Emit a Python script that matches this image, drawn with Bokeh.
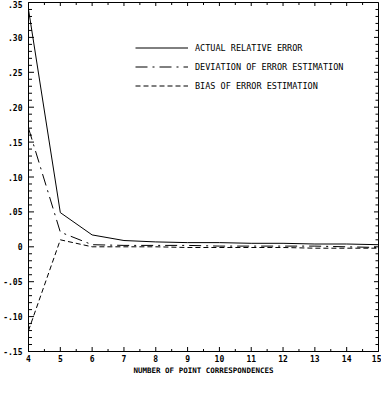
import math
from bokeh.plotting import figure
from bokeh.models import LinearAxis, FixedTicker, Range1d, Legend, LegendItem
from bokeh.embed import file_html
from bokeh.resources import INLINE

n_points = [4, 5, 6, 7, 8, 9, 10, 11, 12, 13, 14, 15]
actual_error = [0.340, 0.049, 0.017, 0.009, 0.007, 0.006, 0.006, 0.005, 0.005, 0.004, 0.004, 0.003]
deviation = [0.170, 0.021, 0.003, 0.002, 0.002, 0.002, 0.001, 0.001, 0.001, 0.001, 0.000, -0.001]
bias = [-0.120, 0.010, 0.000, 0.000, 0.000, -0.001, -0.001, -0.001, -0.001, -0.002, -0.002, -0.002]

y_major = [-0.15, -0.10, -0.05, 0.0, 0.05, 0.10, 0.15, 0.20, 0.25, 0.30, 0.35]
y_labels = ["-.15", "-.10", "-.05", "0", ".05", ".10", ".15", ".20", ".25", ".30", ".35"]
y_minor = [round(-0.15 + 0.01 * i, 2) for i in range(51)]
x_major = n_points
x_minor = [4 + 0.5 * i for i in range(23)]

X0, X1 = 4, 15
Y0, Y1 = -0.15, 0.35
FONT = "DejaVu Sans Mono"

p = figure(width=381, height=377, output_backend="svg", toolbar_location=None,
           x_range=Range1d(X0, X1), y_range=Range1d(Y0, Y1),
           x_axis_location=None, y_axis_location=None,
           min_border_left=25, min_border_right=3, min_border_top=2, min_border_bottom=20)
p.grid.visible = False
p.outline_line_color = "black"
p.outline_line_width = 1
p.background_fill_alpha = 0
p.border_fill_color = "white"


def style(ax):
    ax.axis_line_color = "black"
    ax.major_tick_in = 0
    ax.major_tick_out = 0
    ax.minor_tick_in = 0
    ax.minor_tick_out = 0
    ax.major_label_text_font = FONT
    ax.major_label_text_font_style = "bold"
    ax.major_label_text_font_size = "8px"
    ax.major_label_text_color = "black"


yl = LinearAxis(ticker=FixedTicker(ticks=y_major, minor_ticks=[]))
yl.major_label_overrides = {v: s for v, s in zip(y_major, y_labels)}
style(yl)
yl.major_label_standoff = 6
p.add_layout(yl, "left")

xb = LinearAxis(ticker=FixedTicker(ticks=x_major, minor_ticks=[]))
style(xb)
xb.major_label_standoff = 3
xb.axis_label = "NUMBER OF POINT CORRESPONDENCES"
xb.axis_label_text_font = FONT
xb.axis_label_text_font_style = "bold"
xb.axis_label_text_font_size = "7.5px"
xb.axis_label_text_color = "black"
xb.axis_label_standoff = 1
p.add_layout(xb, "below")

# inward tick marks on all four sides (dash markers centred on the frame edge, clipped to the frame)
y_min_only = [v for v in y_minor if all(abs(v - m) > 1e-9 for m in y_major)]
x_min_only = [v for v in x_minor if v not in x_major]
tick_kw = dict(marker="dash", line_color="black", line_width=1)
p.scatter([X0] * len(y_major), y_major, size=11, **tick_kw)
p.scatter([X0] * len(y_min_only), y_min_only, size=7, **tick_kw)
p.scatter([X1] * len(y_major), y_major, size=9, **tick_kw)
p.scatter([X1] * len(y_min_only), y_min_only, size=6, **tick_kw)
p.scatter(x_major, [Y0] * len(x_major), size=9, angle=math.pi / 2, **tick_kw)
p.scatter(x_min_only, [Y0] * len(x_min_only), size=5, angle=math.pi / 2, **tick_kw)
p.scatter(x_major, [Y1] * len(x_major), size=7, angle=math.pi / 2, **tick_kw)
p.scatter(x_min_only, [Y1] * len(x_min_only), size=5, angle=math.pi / 2, **tick_kw)

r1 = p.line(n_points, actual_error, line_color="black", line_width=1)
r2 = p.line(n_points, deviation, line_color="black", line_width=1, line_dash="12 5 2 5")
r3 = p.line(n_points, bias, line_color="black", line_width=1, line_dash="5 3")

legend = Legend(items=[
    LegendItem(label="ACTUAL RELATIVE ERROR", renderers=[r1]),
    LegendItem(label="DEVIATION OF ERROR ESTIMATION", renderers=[r2]),
    LegendItem(label="BIAS OF ERROR ESTIMATION", renderers=[r3]),
], location=(107, 256))
legend.border_line_alpha = 0
legend.background_fill_alpha = 0
legend.glyph_width = 53
legend.glyph_height = 19
legend.label_height = 19
legend.spacing = 0
legend.padding = 0
legend.margin = 0
legend.label_standoff = 7
legend.label_text_font = FONT
legend.label_text_font_size = "8.5px"
legend.label_text_color = "black"
p.add_layout(legend, "center")

open("out.html", "w").write(file_html(p, INLINE))
